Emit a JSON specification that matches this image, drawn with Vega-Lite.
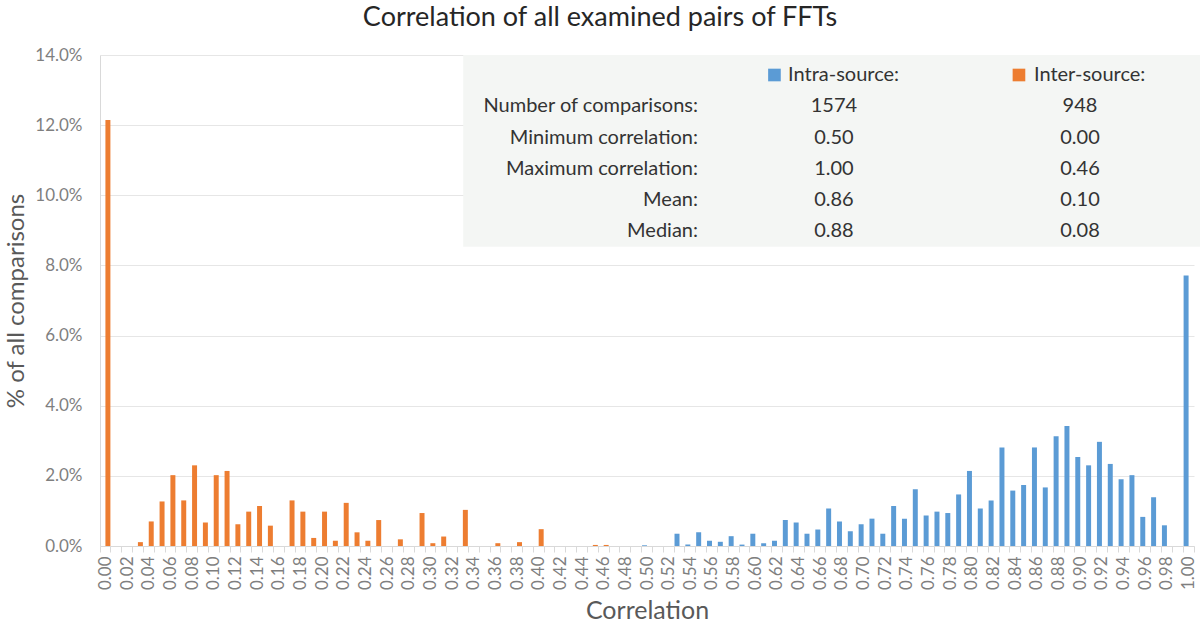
{
  "$schema": "https://vega.github.io/schema/vega-lite/v6.json",
  "width": 1094,
  "height": 491,
  "autosize": {"type": "none"},
  "padding": {"left": 100, "top": 55, "right": 6, "bottom": 79},
  "background": "white",
  "title": {
    "text": "Correlation of all examined pairs of FFTs",
    "font": "Lato",
    "fontSize": 27,
    "fontWeight": "normal",
    "color": "#262626",
    "anchor": "middle",
    "dx": -47,
    "offset": 14
  },
  "layer": [
    {
      "data": {
        "values": [
          {"corr": "0.00", "source": "Inter-source", "share": 0.1215},
          {"corr": "0.01", "source": "Inter-source", "share": 0},
          {"corr": "0.02", "source": "Inter-source", "share": 0},
          {"corr": "0.03", "source": "Inter-source", "share": 0.0011},
          {"corr": "0.04", "source": "Inter-source", "share": 0.0070},
          {"corr": "0.05", "source": "Inter-source", "share": 0.0127},
          {"corr": "0.06", "source": "Inter-source", "share": 0.0202},
          {"corr": "0.07", "source": "Inter-source", "share": 0.0130},
          {"corr": "0.08", "source": "Inter-source", "share": 0.0230},
          {"corr": "0.09", "source": "Inter-source", "share": 0.0067},
          {"corr": "0.10", "source": "Inter-source", "share": 0.0202},
          {"corr": "0.11", "source": "Inter-source", "share": 0.0214},
          {"corr": "0.12", "source": "Inter-source", "share": 0.0062},
          {"corr": "0.13", "source": "Inter-source", "share": 0.0098},
          {"corr": "0.14", "source": "Inter-source", "share": 0.0114},
          {"corr": "0.15", "source": "Inter-source", "share": 0.0058},
          {"corr": "0.16", "source": "Inter-source", "share": 0},
          {"corr": "0.17", "source": "Inter-source", "share": 0.0130},
          {"corr": "0.18", "source": "Inter-source", "share": 0.0098},
          {"corr": "0.19", "source": "Inter-source", "share": 0.0023},
          {"corr": "0.20", "source": "Inter-source", "share": 0.0098},
          {"corr": "0.21", "source": "Inter-source", "share": 0.0015},
          {"corr": "0.22", "source": "Inter-source", "share": 0.0123},
          {"corr": "0.23", "source": "Inter-source", "share": 0.0039},
          {"corr": "0.24", "source": "Inter-source", "share": 0.0015},
          {"corr": "0.25", "source": "Inter-source", "share": 0.0074},
          {"corr": "0.26", "source": "Inter-source", "share": 0},
          {"corr": "0.27", "source": "Inter-source", "share": 0.0019},
          {"corr": "0.28", "source": "Inter-source", "share": 0},
          {"corr": "0.29", "source": "Inter-source", "share": 0.0094},
          {"corr": "0.30", "source": "Inter-source", "share": 0.0008},
          {"corr": "0.31", "source": "Inter-source", "share": 0.0027},
          {"corr": "0.32", "source": "Inter-source", "share": 0},
          {"corr": "0.33", "source": "Inter-source", "share": 0.0103},
          {"corr": "0.34", "source": "Inter-source", "share": 0},
          {"corr": "0.35", "source": "Inter-source", "share": 0},
          {"corr": "0.36", "source": "Inter-source", "share": 0.0008},
          {"corr": "0.37", "source": "Inter-source", "share": 0},
          {"corr": "0.38", "source": "Inter-source", "share": 0.0011},
          {"corr": "0.39", "source": "Inter-source", "share": 0},
          {"corr": "0.40", "source": "Inter-source", "share": 0.0048},
          {"corr": "0.41", "source": "Inter-source", "share": 0},
          {"corr": "0.42", "source": "Inter-source", "share": 0},
          {"corr": "0.43", "source": "Inter-source", "share": 0},
          {"corr": "0.44", "source": "Inter-source", "share": 0},
          {"corr": "0.45", "source": "Inter-source", "share": 0.0003},
          {"corr": "0.46", "source": "Inter-source", "share": 0.0003},
          {"corr": "0.47", "source": "Inter-source", "share": 0},
          {"corr": "0.48", "source": "Inter-source", "share": 0},
          {"corr": "0.49", "source": "Inter-source", "share": 0},
          {"corr": "0.50", "source": "Intra-source", "share": 0.0002},
          {"corr": "0.51", "source": "Intra-source", "share": 0},
          {"corr": "0.52", "source": "Intra-source", "share": 0},
          {"corr": "0.53", "source": "Intra-source", "share": 0.0035},
          {"corr": "0.54", "source": "Intra-source", "share": 0.0004},
          {"corr": "0.55", "source": "Intra-source", "share": 0.0039},
          {"corr": "0.56", "source": "Intra-source", "share": 0.0015},
          {"corr": "0.57", "source": "Intra-source", "share": 0.0012},
          {"corr": "0.58", "source": "Intra-source", "share": 0.0028},
          {"corr": "0.59", "source": "Intra-source", "share": 0.0004},
          {"corr": "0.60", "source": "Intra-source", "share": 0.0035},
          {"corr": "0.61", "source": "Intra-source", "share": 0.0008},
          {"corr": "0.62", "source": "Intra-source", "share": 0.0015},
          {"corr": "0.63", "source": "Intra-source", "share": 0.0074},
          {"corr": "0.64", "source": "Intra-source", "share": 0.0067},
          {"corr": "0.65", "source": "Intra-source", "share": 0.0035},
          {"corr": "0.66", "source": "Intra-source", "share": 0.0047},
          {"corr": "0.67", "source": "Intra-source", "share": 0.0107},
          {"corr": "0.68", "source": "Intra-source", "share": 0.0070},
          {"corr": "0.69", "source": "Intra-source", "share": 0.0042},
          {"corr": "0.70", "source": "Intra-source", "share": 0.0062},
          {"corr": "0.71", "source": "Intra-source", "share": 0.0078},
          {"corr": "0.72", "source": "Intra-source", "share": 0.0035},
          {"corr": "0.73", "source": "Intra-source", "share": 0.0114},
          {"corr": "0.74", "source": "Intra-source", "share": 0.0078},
          {"corr": "0.75", "source": "Intra-source", "share": 0.0162},
          {"corr": "0.76", "source": "Intra-source", "share": 0.0087},
          {"corr": "0.77", "source": "Intra-source", "share": 0.0098},
          {"corr": "0.78", "source": "Intra-source", "share": 0.0094},
          {"corr": "0.79", "source": "Intra-source", "share": 0.0147},
          {"corr": "0.80", "source": "Intra-source", "share": 0.0214},
          {"corr": "0.81", "source": "Intra-source", "share": 0.0107},
          {"corr": "0.82", "source": "Intra-source", "share": 0.0130},
          {"corr": "0.83", "source": "Intra-source", "share": 0.0281},
          {"corr": "0.84", "source": "Intra-source", "share": 0.0158},
          {"corr": "0.85", "source": "Intra-source", "share": 0.0174},
          {"corr": "0.86", "source": "Intra-source", "share": 0.0281},
          {"corr": "0.87", "source": "Intra-source", "share": 0.0167},
          {"corr": "0.88", "source": "Intra-source", "share": 0.0313},
          {"corr": "0.89", "source": "Intra-source", "share": 0.0342},
          {"corr": "0.90", "source": "Intra-source", "share": 0.0254},
          {"corr": "0.91", "source": "Intra-source", "share": 0.0230},
          {"corr": "0.92", "source": "Intra-source", "share": 0.0297},
          {"corr": "0.93", "source": "Intra-source", "share": 0.0234},
          {"corr": "0.94", "source": "Intra-source", "share": 0.0190},
          {"corr": "0.95", "source": "Intra-source", "share": 0.0202},
          {"corr": "0.96", "source": "Intra-source", "share": 0.0083},
          {"corr": "0.97", "source": "Intra-source", "share": 0.0139},
          {"corr": "0.98", "source": "Intra-source", "share": 0.0059},
          {"corr": "0.99", "source": "Intra-source", "share": 0},
          {"corr": "1.00", "source": "Intra-source", "share": 0.0771}
        ]
      },
      "mark": {"type": "bar"},
      "encoding": {
        "x": {
          "field": "corr",
          "type": "ordinal",
          "scale": {"paddingInner": 0.08, "paddingOuter": 0.04},
          "axis": {
            "title": "Correlation",
            "labelAngle": 270,
            "labelExpr": "round(toNumber(datum.value) * 100) % 2 == 0 ? datum.label : ''",
            "labelOverlap": false,
            "tickBand": "extent",
            "tickSize": 6,
            "tickColor": "#d9d9d9",
            "domainColor": "#d9d9d9",
            "labelColor": "#7f7f7f",
            "labelFont": "Lato",
            "labelFontSize": 17,
            "labelPadding": 4,
            "titleFont": "Lato",
            "titleFontSize": 25,
            "titleFontWeight": "normal",
            "titleColor": "#595959",
            "titlePadding": 9,
            "grid": false
          }
        },
        "xOffset": {
          "field": "source",
          "type": "nominal",
          "scale": {"domain": ["Intra-source", "Inter-source"], "paddingInner": 0, "paddingOuter": 0}
        },
        "y": {
          "field": "share",
          "type": "quantitative",
          "scale": {"domain": [0, 0.14], "nice": false},
          "axis": {
            "title": "% of all comparisons",
            "format": ".1%",
            "values": [0, 0.02, 0.04, 0.06, 0.08, 0.1, 0.12, 0.14],
            "grid": true,
            "gridColor": "#e6e6e6",
            "ticks": false,
            "domainColor": "#d9d9d9",
            "labelColor": "#7f7f7f",
            "labelFont": "Lato",
            "labelFontSize": 17,
            "labelPadding": 18,
            "titleFont": "Lato",
            "titleFontSize": 24,
            "titleFontWeight": "normal",
            "titleColor": "#595959",
            "titlePadding": 6
          }
        },
        "color": {
          "field": "source",
          "type": "nominal",
          "scale": {"domain": ["Intra-source", "Inter-source"], "range": ["#5b9bd5", "#ed7d31"]},
          "legend": null
        }
      }
    },
    {
      "data": {
        "values": [
          {"row": 1, "stat": "Number of comparisons:", "intra": "1574", "inter": "948"},
          {"row": 2, "stat": "Minimum correlation:", "intra": "0.50", "inter": "0.00"},
          {"row": 3, "stat": "Maximum correlation:", "intra": "1.00", "inter": "0.46"},
          {"row": 4, "stat": "Mean:", "intra": "0.86", "inter": "0.10"},
          {"row": 5, "stat": "Median:", "intra": "0.88", "inter": "0.08"}
        ]
      },
      "layer": [
        {
          "data": {"values": [{}]},
          "mark": {"type": "rect", "color": "#f4f6f4"},
          "encoding": {
            "x": {"datum": 0.332, "type": "quantitative", "scale": {"domain": [0, 1], "nice": false, "zero": false}, "axis": null},
            "x2": {"datum": 1.0055},
            "y": {"datum": -0.639, "type": "quantitative", "scale": {"domain": [-0.639, 15.048], "reverse": true, "nice": false, "zero": false}, "axis": null},
            "y2": {"datum": 5.486}
          }
        },
        {
          "mark": {"type": "text", "align": "right", "baseline": "middle", "font": "Lato", "fontSize": 20, "color": "#333333"},
          "encoding": {
            "x": {"datum": 0.5466, "type": "quantitative", "axis": null},
            "y": {"field": "row", "type": "quantitative", "axis": null},
            "text": {"field": "stat"}
          }
        },
        {
          "mark": {"type": "text", "align": "center", "baseline": "middle", "font": "Lato", "fontSize": 20, "color": "#333333"},
          "encoding": {
            "x": {"datum": 0.6709, "type": "quantitative", "axis": null},
            "y": {"field": "row", "type": "quantitative", "axis": null},
            "text": {"field": "intra"}
          }
        },
        {
          "mark": {"type": "text", "align": "center", "baseline": "middle", "font": "Lato", "fontSize": 20, "color": "#333333"},
          "encoding": {
            "x": {"datum": 0.8958, "type": "quantitative", "axis": null},
            "y": {"field": "row", "type": "quantitative", "axis": null},
            "text": {"field": "inter"}
          }
        },
        {
          "data": {
            "values": [
              {"row": 0, "source": "Intra-source", "label": "Intra-source:"},
              {"row": 0, "source": "Inter-source", "label": "Inter-source:"}
            ]
          },
          "layer": [
            {
              "transform": [{"filter": "datum.source == 'Intra-source'"}],
              "mark": {"type": "point", "shape": "square", "filled": true, "size": 160, "opacity": 1},
              "encoding": {
                "x": {"datum": 0.6165, "type": "quantitative", "axis": null},
                "y": {"field": "row", "type": "quantitative", "axis": null},
                "color": {"field": "source", "type": "nominal", "legend": null}
              }
            },
            {
              "transform": [{"filter": "datum.source == 'Intra-source'"}],
              "mark": {"type": "text", "align": "left", "baseline": "middle", "font": "Lato", "fontSize": 20, "color": "#333333"},
              "encoding": {
                "x": {"datum": 0.6289, "type": "quantitative", "axis": null},
                "y": {"field": "row", "type": "quantitative", "axis": null},
                "text": {"field": "label"}
              }
            },
            {
              "transform": [{"filter": "datum.source == 'Inter-source'"}],
              "mark": {"type": "point", "shape": "square", "filled": true, "size": 160, "opacity": 1},
              "encoding": {
                "x": {"datum": 0.840, "type": "quantitative", "axis": null},
                "y": {"field": "row", "type": "quantitative", "axis": null},
                "color": {"field": "source", "type": "nominal", "legend": null}
              }
            },
            {
              "transform": [{"filter": "datum.source == 'Inter-source'"}],
              "mark": {"type": "text", "align": "left", "baseline": "middle", "font": "Lato", "fontSize": 20, "color": "#333333"},
              "encoding": {
                "x": {"datum": 0.8537, "type": "quantitative", "axis": null},
                "y": {"field": "row", "type": "quantitative", "axis": null},
                "text": {"field": "label"}
              }
            }
          ]
        }
      ]
    }
  ],
  "resolve": {"scale": {"x": "independent", "y": "independent"}},
  "config": {
    "view": {"stroke": null},
    "font": "Lato"
  }
}
